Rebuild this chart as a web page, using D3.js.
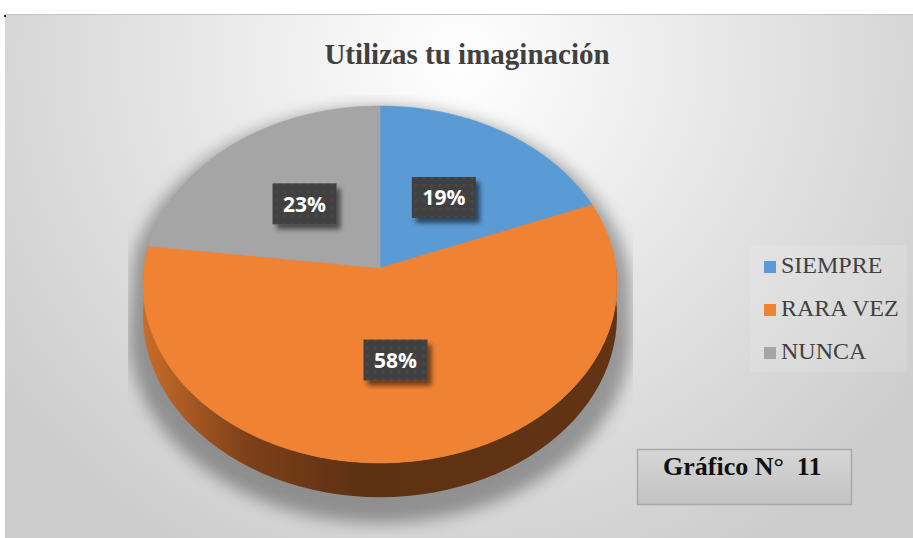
<!DOCTYPE html>
<html>
<head>
<meta charset="utf-8">
<script src="https://cdn.jsdelivr.net/npm/d3@7"></script>
<style>
  html, body { margin: 0; padding: 0; background: #fff; }
</style>
</head>
<body>
<script>
const categories = ["SIEMPRE", "RARA VEZ", "NUNCA"];
const values = [19, 58, 23];
const labels = ["19%", "58%", "23%"];
const colors = ["#5b9bd5", "#f08233", "#a5a5a5"];
const title = "Utilizas tu imaginación";
const figure = "Gráfico N°  11";

const width = 913, height = 538;
const svg = d3.select("body").append("svg")
  .attr("width", width).attr("height", height)
  .style("display", "block");
const defs = svg.append("defs");

// background
const bg = defs.append("radialGradient").attr("id", "bg")
  .attr("gradientUnits", "userSpaceOnUse")
  .attr("cx", 460).attr("cy", 60).attr("r", 560);
bg.append("stop").attr("offset", "0%").attr("stop-color", "#ffffff");
bg.append("stop").attr("offset", "45%").attr("stop-color", "#e8e8e8");
bg.append("stop").attr("offset", "100%").attr("stop-color", "#cdcdcd");
svg.append("rect").attr("x", 5).attr("y", 14).attr("width", width - 5).attr("height", height - 14)
  .attr("fill", "url(#bg)");
svg.append("line").attr("x1", 5).attr("x2", width).attr("y1", 14.5).attr("y2", 14.5)
  .attr("stroke", "#c4c4c4");
svg.append("rect").attr("x", 4).attr("y", 15).attr("width", 2).attr("height", 2).attr("fill", "#222");

svg.append("text").attr("x", 467).attr("y", 64)
  .attr("text-anchor", "middle")
  .attr("font-family", "Liberation Serif, Times New Roman, serif")
  .attr("font-weight", "bold").attr("font-size", 29).attr("fill", "#404040")
  .text(title);

// perspective projection of the pie disc
const cx = 380, cy = 268, A = 236, B = 177, k = 0.0924, depth = 31;
const proj = (a, f = 1) => {
  const u = Math.sin(a) * f, v = -Math.cos(a) * f;
  const w = 1 - k * v;
  return [cx + A * u / w, cy + B * v / w, w];
};
const pie = d3.pie().sort(null).value(d => d)(values);
const steps = (a0, a1) => d3.range(0, 61).map(i => a0 + (a1 - a0) * i / 60);

// shadow
const sh = defs.append("filter").attr("id", "soft").attr("x", "-20%").attr("y", "-20%")
  .attr("width", "140%").attr("height", "140%");
sh.append("feGaussianBlur").attr("stdDeviation", 8);
defs.append("clipPath").attr("id", "shclip").append("rect")
  .attr("x", 128).attr("y", 95).attr("width", 505).attr("height", 439);
const ring = steps(0, 2 * Math.PI);
const silhouette = ring.map(a => {
  const p = proj(a, 1.06);
  return [p[0], p[1] + (Math.cos(a) < 0 ? depth + 16 : 10)];
});
svg.append("g").attr("clip-path", "url(#shclip)")
  .append("path")
  .attr("d", d3.line()(silhouette) + "Z")
  .attr("fill", "#000").attr("opacity", 0.33)
  .attr("filter", "url(#soft)");

// side wall
const side = defs.append("linearGradient").attr("id", "side")
  .attr("gradientUnits", "userSpaceOnUse").attr("x1", 143).attr("x2", 617).attr("y1", 0).attr("y2", 0);
side.append("stop").attr("offset", "0%").attr("stop-color", "#c86c2a");
side.append("stop").attr("offset", "22%").attr("stop-color", "#7d4018");
side.append("stop").attr("offset", "45%").attr("stop-color", "#5e3114");
side.append("stop").attr("offset", "100%").attr("stop-color", "#623414");
const lo = Math.PI / 2, hi = 3 * Math.PI / 2;
pie.forEach((d, i) => {
  const a0 = Math.max(d.startAngle, lo), a1 = Math.min(d.endAngle, hi);
  if (a1 <= a0) return;
  const top = steps(a0, a1).map(a => proj(a));
  const bot = top.slice().reverse().map(p => [p[0], p[1] + depth / p[2]]);
  svg.append("path")
    .attr("d", d3.line()(top.map(p => [p[0], p[1]]).concat(bot)) + "Z")
    .attr("fill", i === 1 ? "url(#side)" : d3.color(colors[i]).darker(1.2));
});

// top faces
svg.append("g").selectAll("path").data(pie).join("path")
  .attr("d", d => d3.line()([[cx, cy]].concat(steps(d.startAngle, d.endAngle).map(a => proj(a).slice(0, 2)))) + "Z")
  .attr("fill", (d, i) => colors[i])
  .attr("stroke", (d, i) => colors[i]).attr("stroke-width", 0.6);

// data labels
const pat = defs.append("pattern").attr("id", "dots").attr("patternUnits", "userSpaceOnUse")
  .attr("width", 8).attr("height", 8);
pat.append("rect").attr("width", 8).attr("height", 8).attr("fill", "#3f3f3f");
pat.append("circle").attr("cx", 4).attr("cy", 4).attr("r", 2).attr("fill", "#474747");
const bs = defs.append("filter").attr("id", "boxsh").attr("x", "-30%").attr("y", "-30%")
  .attr("width", "170%").attr("height", "170%");
bs.append("feGaussianBlur").attr("in", "SourceAlpha").attr("stdDeviation", 2.5);
bs.append("feOffset").attr("dx", 4).attr("dy", 5).attr("result", "b");
bs.append("feComponentTransfer").append("feFuncA").attr("type", "linear").attr("slope", 0.55);
const fm = bs.append("feMerge");
fm.append("feMergeNode");
fm.append("feMergeNode").attr("in", "SourceGraphic");

const lab = svg.append("g").selectAll("g").data(pie).join("g")
  .attr("transform", d => {
    const p = proj((d.startAngle + d.endAngle) / 2, 0.5);
    return `translate(${p[0]},${p[1]})`;
  });
lab.append("rect").attr("x", -32).attr("y", -20.5).attr("width", 64).attr("height", 41)
  .attr("fill", "url(#dots)").attr("filter", "url(#boxsh)");
lab.append("text").attr("text-anchor", "middle").attr("y", 8)
  .attr("font-family", "Open Sans, Lato, sans-serif").attr("font-weight", "bold")
  .attr("font-size", 21).attr("fill", "#fff")
  .text((d, i) => labels[i]);

// legend
const legend = svg.append("g");
legend.append("rect").attr("x", 750).attr("y", 245).attr("width", 157).attr("height", 127)
  .attr("fill", "#ffffff").attr("opacity", 0.12);
const li = legend.selectAll("g").data(categories).join("g")
  .attr("transform", (d, i) => `translate(764,${273 + i * 43})`);
li.append("rect").attr("x", 0).attr("y", -12).attr("width", 12).attr("height", 12)
  .attr("fill", (d, i) => colors[i]);
li.append("text").attr("x", 17).attr("y", 0)
  .attr("font-family", "Liberation Serif, Times New Roman, serif")
  .attr("font-size", 24).attr("fill", "#404040")
  .text(d => d);

// figure number box
const fg = defs.append("linearGradient").attr("id", "fig").attr("x1", 0).attr("x2", 0).attr("y1", 0).attr("y2", 1);
fg.append("stop").attr("offset", "0%").attr("stop-color", "#d6d6d6");
fg.append("stop").attr("offset", "100%").attr("stop-color", "#c2c2c2");
svg.append("rect").attr("x", 637.5).attr("y", 449.5).attr("width", 214).attr("height", 55)
  .attr("fill", "url(#fig)").attr("stroke", "#a9a9a9").attr("stroke-width", 1.5);
svg.append("text").attr("x", 663).attr("y", 475)
  .attr("font-family", "Liberation Serif, Times New Roman, serif")
  .attr("font-weight", "bold").attr("font-size", 26).attr("fill", "#111")
  .attr("xml:space", "preserve").style("white-space", "pre")
  .text(figure);
</script>
</body>
</html>
